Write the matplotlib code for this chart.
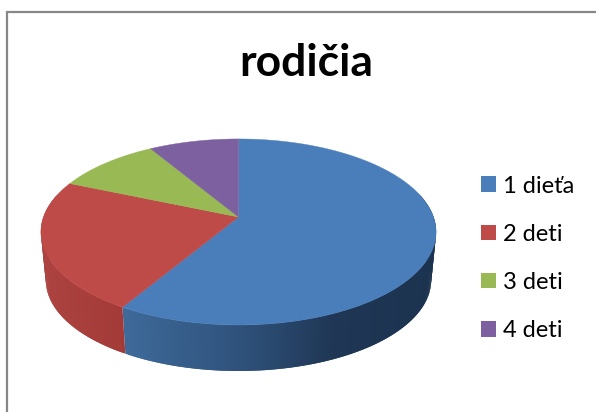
import numpy as np
import matplotlib
matplotlib.use('Agg')
import matplotlib.pyplot as plt
from matplotlib.patches import Patch

#Data
title = 'rodičia'
labels = ['1 dieťa', '2 deti', '3 deti', '4 deti']
values = [8.2, 3.2, 1.4, 1.2]

#Colours
top_colors = ['#4A7EBB', '#BE4B48', '#98B954', '#7D60A0']
wall_stops = {
    0: [(124, '#3E6999'), (238, '#2F527B'), (335, '#1F3654'), (436, '#1C3350')],
    1: [(41, '#AC4341'), (124, '#A23A38')],
}

#Perspective of the disc, in pixels of the picture
cx, cy = 238.5, 217
a, b, k = 195, 90.6, 0.161
depth, shrink = 48.7, 0.975


def project(theta, s=1.0, dy=0.0):
    #theta is clockwise from the top of the pie
    d = 1 + k * np.cos(theta)
    return cx + s * a * np.sin(theta) / d, cy + dy + s * b * np.cos(theta) * -1 / d


def hex2rgb(c):
    return np.array(matplotlib.colors.to_rgb(c))


def wall_color(stops, x):
    xs = [p[0] for p in stops]
    rgb = np.array([hex2rgb(p[1]) for p in stops])
    return [np.interp(x, xs, rgb[:, i]) for i in range(3)]


fig = plt.figure(figsize=(5.96, 4.12), dpi=100)
ax = fig.add_axes([0, 0, 1, 1])
ax.set_xlim(0, 596)
ax.set_ylim(412, 0)
ax.axis('off')

#Frame of the chart, only top and left are visible
ax.plot([7, 7, 596], [412, 12, 12], color='#878787', lw=1.6, solid_joinstyle='miter')

edges = 2 * np.pi * np.concatenate([[0], np.cumsum(values)]) / np.sum(values)

#Side wall, strips overlap the next one so no seams show between them
for i in wall_stops:
    t1 = max(edges[i], np.radians(75))
    t2 = min(edges[i + 1], np.radians(285))
    tt = np.linspace(t1, t2, int((t2 - t1) * 60) + 3)
    for j in range(len(tt) - 2):
        x1, y1 = project(tt[j])
        x2, y2 = project(tt[j + 2])
        x3, y3 = project(tt[j + 2], shrink, depth)
        x4, y4 = project(tt[j], shrink, depth)
        col = wall_color(wall_stops[i], (x1 + x2) / 2)
        ax.fill([x1, x2, x3, x4], [y1, y2, y3, y4], color=col, lw=0, zorder=2)

#Top of the pie
for i in range(len(values)):
    tt = np.linspace(edges[i], edges[i + 1], 200)
    x, y = project(tt)
    ax.fill(np.r_[cx, x], np.r_[cy, y], color=top_colors[i], lw=0.3, zorder=3)

ax.text(306, 63, title, family='Lato', fontweight='bold', fontsize=32,
        color='black', ha='center', va='center')

handles = [Patch(facecolor=c, edgecolor='none') for c in top_colors]
ax.legend(handles, labels, loc='upper left', bbox_to_anchor=(477 / 596, 1 - 172 / 412),
          frameon=False, prop={'family': 'Lato', 'size': 17}, handlelength=0.64,
          handleheight=0.64, handletextpad=0.3, labelspacing=1.15, borderpad=0.15,
          borderaxespad=0, labelcolor='black')

fig.savefig('out.png', dpi=100)
